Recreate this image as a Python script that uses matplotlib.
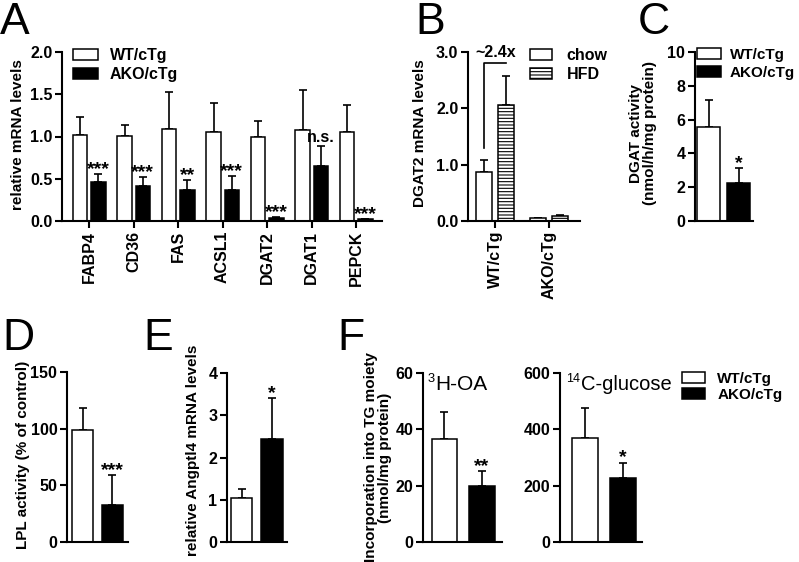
import matplotlib
matplotlib.use("Agg")
import matplotlib.pyplot as plt
from matplotlib.patches import Patch

plt.rcParams["font.family"] = ["Liberation Sans", "DejaVu Sans"]
plt.rcParams["font.weight"] = "bold"
plt.rcParams["axes.labelweight"] = "bold"
plt.rcParams["hatch.linewidth"] = 0.8

W, H = 799, 562

# panel A
genes = ["FABP4", "CD36", "FAS", "ACSL1", "DGAT2", "DGAT1", "PEPCK"]
a_wt = [1.02, 1.01, 1.09, 1.05, 1.00, 1.08, 1.05]
a_wt_err = [0.21, 0.13, 0.44, 0.35, 0.18, 0.47, 0.32]
a_ko = [0.46, 0.42, 0.37, 0.37, 0.04, 0.65, 0.02]
a_ko_err = [0.095, 0.10, 0.11, 0.165, 0.005, 0.24, 0.003]
a_sig = ["***", "***", "**", "***", "***", "n.s.", "***"]

# panel B
b_groups = ["WT/cTg", "AKO/cTg"]
b_chow = [0.87, 0.05]
b_chow_err = [0.22, 0.01]
b_hfd = [2.06, 0.08]
b_hfd_err = [0.52, 0.02]

# panels C-F (WT/cTg, AKO/cTg)
c_vals = [5.57, 2.22]
c_err = [1.6, 0.9]
d_vals = [99, 33]
d_err = [19, 26]
e_vals = [1.03, 2.43]
e_err = [0.22, 0.97]
f1_vals = [36.5, 19.8]
f1_err = [9.5, 5.3]
f2_vals = [368, 228]
f2_err = [109, 54]

TICK = 11.5
LAB = 11


def add_ax(fig, l, t, r, b):
    ax = fig.add_axes([l / W, 1 - b / H, (r - l) / W, (b - t) / H])
    for s in ("top", "right"):
        ax.spines[s].set_visible(False)
    for s in ("left", "bottom"):
        ax.spines[s].set_linewidth(1.5)
    ax.tick_params(width=1.5, length=5, labelsize=TICK, pad=2)
    return ax


def ylab(ax, text, xfrac, yfrac=0.5, size=LAB):
    ax.set_ylabel(text, fontsize=size, linespacing=1.0)
    ax.yaxis.set_label_coords(xfrac, yfrac)


def sig(ax, x, y, s, dy=0):
    size = 11.5 if s == "n.s." else 14
    ax.annotate(s, (x, y), xytext=(0, dy), textcoords="offset points",
                ha="center", va="baseline", fontsize=size, fontweight="bold")


def legend(ax, handles, x, y, size=11, hl=1.5, pad=0.7, sp=0.25):
    ax.legend(handles=handles, loc="upper left", bbox_to_anchor=(x / W, 1 - y / H),
              bbox_transform=ax.figure.transFigure, frameon=False, fontsize=size,
              handlelength=hl, handleheight=0.7, handletextpad=pad, labelspacing=sp,
              borderpad=0, borderaxespad=0)


def grp_handles():
    return [Patch(facecolor="white", edgecolor="black", linewidth=1.1, label="WT/cTg"),
            Patch(facecolor="black", edgecolor="black", linewidth=1.1, label="AKO/cTg")]


def errs(ax, x, vals, err):
    ax.errorbar(x, vals, yerr=[[0] * len(vals), err], fmt="none", ecolor="black",
                elinewidth=1.2, capsize=2.8, capthick=1.2, zorder=1)


def letter(fig, x, y, s):
    fig.text(x / W, 1 - y / H, s, fontsize=32, fontweight="normal", va="top", ha="left")


def iso_title(ax, sup, main, xfrac, size):
    t = ax.text(xfrac, 1.0, sup, transform=ax.transAxes, fontsize=size * 0.62,
                fontweight="normal", va="top", ha="left")
    ax.annotate(main, xy=(1.0, 1.0), xycoords=t, xytext=(0.5, -1.5), textcoords="offset points",
                va="top", ha="left", fontsize=size, fontweight="normal")


fig = plt.figure(figsize=(W / 100, H / 100), dpi=100)

# ---- A
ax = add_ax(fig, 62, 52, 382, 221)
xs = list(range(len(genes)))
ax.bar([x - 0.2 for x in xs], a_wt, 0.33, color="white", edgecolor="black", linewidth=1.1, zorder=2)
ax.bar([x + 0.21 for x in xs], a_ko, 0.33, color="black", edgecolor="black", linewidth=1.1, zorder=2)
errs(ax, [x - 0.2 for x in xs], a_wt, a_wt_err)
errs(ax, [x + 0.21 for x in xs], a_ko, a_ko_err)
for i, s in enumerate(a_sig):
    sig(ax, i + 0.21, a_ko[i] + a_ko_err[i], s, 2.5 if s == "n.s." else 0)
ax.set_xlim(-0.607, 6.584)
ax.set_ylim(0, 2.0)
ax.set_yticks([0, 0.5, 1.0, 1.5, 2.0])
ax.set_yticklabels(["0.0", "0.5", "1.0", "1.5", "2.0"])
ax.set_xticks(xs)
ax.set_xticklabels(genes, rotation=90)
ylab(ax, "relative mRNA levels", -0.116, 0.51)
legend(ax, grp_handles(), 73, 48, size=11.5, hl=1.55, pad=0.75)

# ---- B
ax = add_ax(fig, 468, 52, 580, 221)
xb = list(range(len(b_groups)))
ax.bar([x - 0.2 for x in xb], b_chow, 0.3, color="white", edgecolor="black", linewidth=1.1, zorder=2)
ax.bar([x + 0.2 for x in xb], b_hfd, 0.3, color="white", edgecolor="black", linewidth=1.1,
       hatch="-----", zorder=2)
errs(ax, [x - 0.2 for x in xb], b_chow, b_chow_err)
errs(ax, [x + 0.2 for x in xb], b_hfd, b_hfd_err)
ax.plot([-0.2, -0.2, 0.2], [1.3, 2.8, 2.8], color="black", lw=1.2)
ax.text(0.02, 2.86, "~2.4x", ha="center", va="bottom", fontsize=11.5, fontweight="bold")
ax.set_xlim(-0.5, 1.574)
ax.set_ylim(0, 3.0)
ax.set_yticks([0, 1, 2, 3])
ax.set_yticklabels(["0.0", "1.0", "2.0", "3.0"])
ax.set_xticks(xb)
ax.set_xticklabels(b_groups, rotation=90)
ylab(ax, "DGAT2 mRNA levels", -0.366, 0.52)
legend(ax, [Patch(facecolor="white", edgecolor="black", linewidth=1.1, label="chow"),
            Patch(facecolor="white", edgecolor="black", linewidth=1.1, hatch="-----", label="HFD")],
       530, 48, size=11.5, hl=1.4, pad=0.9)


def two_bars(ax, vals, err, width, s):
    ax.bar([0, 1], vals, width, color=["white", "black"], edgecolor="black", linewidth=1.1, zorder=2)
    errs(ax, [0, 1], vals, err)
    sig(ax, 1, vals[1] + err[1], s)
    ax.set_xticks([])


# ---- C
ax = add_ax(fig, 695, 52, 753, 221)
two_bars(ax, c_vals, c_err, 0.77, "*")
ax.set_xlim(-0.45, 1.483)
ax.set_ylim(0, 10)
ax.set_yticks(range(0, 11, 2))
ylab(ax, "DGAT activity\n(nmol/h/mg protein)", -0.655, 0.52)
legend(ax, grp_handles(), 697, 48, size=11, hl=1.55, pad=0.6)

# ---- D
ax = add_ax(fig, 67, 372, 128, 542)
two_bars(ax, d_vals, d_err, 0.73, "***")
ax.set_xlim(-0.517, 1.517)
ax.set_ylim(0, 150)
ax.set_yticks([0, 50, 100, 150])
ylab(ax, "LPL activity (% of control)", -0.607, 0.51)

# ---- E
ax = add_ax(fig, 227, 373, 287, 542)
two_bars(ax, e_vals, e_err, 0.72, "*")
ax.set_xlim(-0.475, 1.49)
ax.set_ylim(0, 4)
ax.set_yticks([0, 1, 2, 3, 4])
ylab(ax, "relative Angptl4 mRNA levels", -0.45, 0.54)

# ---- F
ax = add_ax(fig, 423, 373, 502, 542)
two_bars(ax, f1_vals, f1_err, 0.67, "**")
ax.set_xlim(-0.573, 1.533)
ax.set_ylim(0, 60)
ax.set_yticks([0, 20, 40, 60])
ylab(ax, "Incorporation into TG moiety\n(nmol/mg protein)", -0.39, 0.5)
iso_title(ax, "3", "H-OA", 0.06, 15)

ax = add_ax(fig, 560, 373, 642, 542)
two_bars(ax, f2_vals, f2_err, 0.68, "*")
ax.set_xlim(-0.658, 1.5)
ax.set_ylim(0, 600)
ax.set_yticks([0, 200, 400, 600])
iso_title(ax, "14", "C-glucose", 0.08, 14.5)
legend(ax, grp_handles(), 682, 372, size=11, hl=1.5, pad=0.8, sp=0.1)

letter(fig, 0, 2, "A")
letter(fig, 415, 2, "B")
letter(fig, 638, 2, "C")
letter(fig, 2, 318, "D")
letter(fig, 143, 318, "E")
letter(fig, 337, 318, "F")

fig.savefig("out.png", dpi=100)
